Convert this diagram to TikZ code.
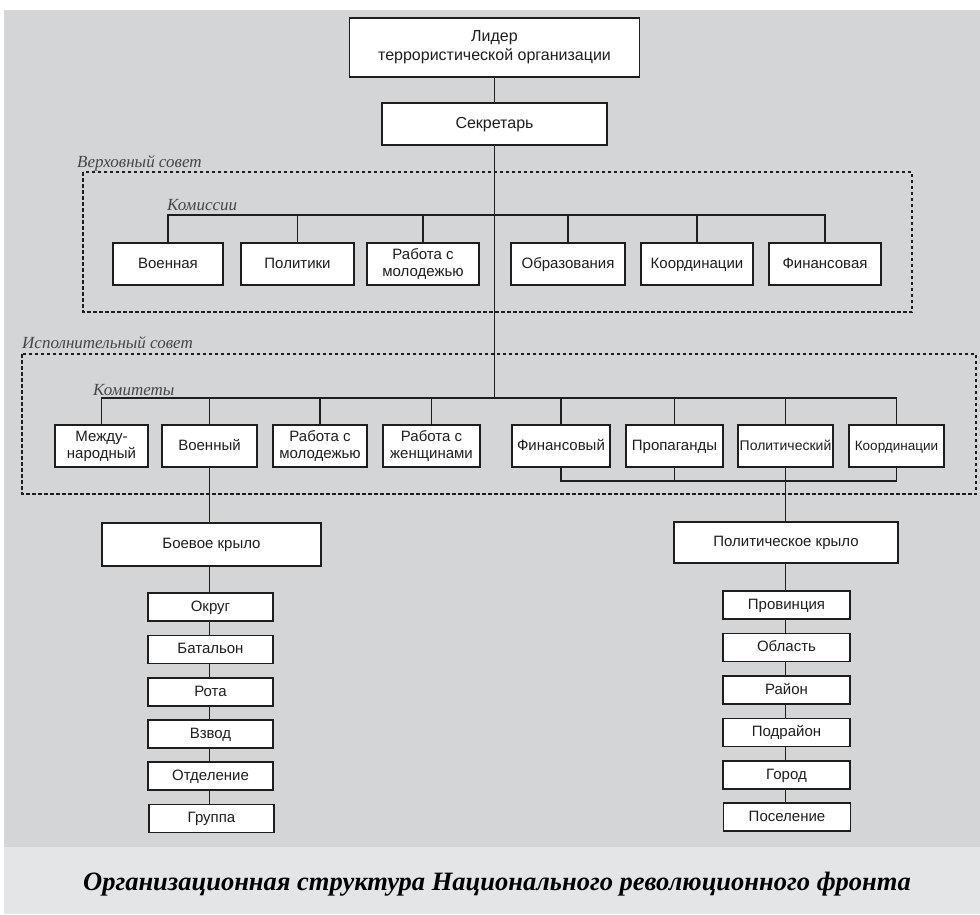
\documentclass[tikz,border=0pt]{standalone}
\usepackage{fontspec}
\setmainfont{Liberation Serif}
\setsansfont{Liberation Sans}
\definecolor{bggray}{RGB}{212,213,215}
\definecolor{capgray}{RGB}{228,229,231}
\definecolor{inkc}{RGB}{30,30,30}
\definecolor{labc}{RGB}{70,70,70}
\begin{document}
\begin{tikzpicture}[x=1pt,y=-1pt,
  box/.style={draw=inkc, fill=white, line width=1.5pt, inner sep=1pt, align=center,
    text=inkc, font=\sffamily\fontsize{15}{17}\selectfont},
  sl/.style={text height=10.5pt, text depth=2.5pt},
  chainbox/.style={box, sl, minimum width=125pt, minimum height=28pt},
  conn/.style={draw=inkc, line width=1.2pt},
  council/.style={draw=inkc, line width=1.1pt, dash pattern=on 3.5pt off 2.5pt},
  lab/.style={anchor=west, inner sep=0pt, text=labc, font=\rmfamily\itshape\fontsize{17}{19}\selectfont}]
\useasboundingbox (0,0) rectangle (980,914);
\fill[white] (0,0) rectangle (980,914);
\fill[bggray] (4,10) rectangle (980,847);
\fill[capgray] (4,847) rectangle (980,914);

% dashed councils
\draw[council] (83,172) rectangle (912,312);
\draw[council] (22,354) rectangle (976,494);
\node[lab] (lsup) at (77,163) {Верховный совет};
\node[lab] (lcom) at (167,205) {Комиссии};
\node[lab] (lexe) at (22,343) {Исполнительный совет};
\node[lab] (lcmt) at (93,390) {Комитеты};

% top
\node[box, minimum width=290pt, minimum height=59pt, font=\sffamily\fontsize{16}{19}\selectfont] (lead) at (494.5,47.5) {Лидер\\террористической организации};
\node[box, sl, minimum width=225pt, minimum height=42pt, font=\sffamily\fontsize{16}{19}\selectfont] (sec) at (494.5,124) {Секретарь};

% commissions
\node[box, sl, minimum width=110pt, minimum height=42pt] (c1) at (168,264) {Военная};
\node[box, sl, minimum width=113pt, minimum height=42pt] (c2) at (297.5,264) {Политики};
\node[box, minimum width=112pt, minimum height=42pt] (c3) at (423,264) {Работа с\\молодежью};
\node[box, sl, minimum width=114pt, minimum height=42pt] (c4) at (568,264) {Образования};
\node[box, sl, minimum width=112pt, minimum height=42pt] (c5) at (697,264) {Координации};
\node[box, sl, minimum width=112pt, minimum height=42pt] (c6) at (825,264) {Финансовая};

% committees
\node[box, minimum width=93pt, minimum height=42pt] (k1) at (101.5,446) {Между-\\народный};
\node[box, sl, minimum width=95pt, minimum height=42pt] (k2) at (209.5,446) {Военный};
\node[box, minimum width=94pt, minimum height=42pt] (k3) at (320,446) {Работа с\\молодежью};
\node[box, minimum width=97pt, minimum height=42pt] (k4) at (431.5,446) {Работа с\\женщинами};
\node[box, sl, minimum width=98pt, minimum height=42pt] (k5) at (561,446) {Финансовый};
\node[box, sl, minimum width=97pt, minimum height=42pt] (k6) at (674.5,446) {Пропаганды};
\node[box, sl, minimum width=95pt, minimum height=42pt, font=\sffamily\fontsize{14}{16}\selectfont] (k7) at (785.5,446) {Политический};
\node[box, sl, minimum width=95pt, minimum height=42pt, font=\sffamily\fontsize{13.5}{16}\selectfont] (k8) at (896.5,446) {Координации};

% wings
\node[box, sl, minimum width=219pt, minimum height=43pt] (bw) at (211.5,544.5) {Боевое крыло};
\node[box, sl, minimum width=224pt, minimum height=41pt] (pw) at (786,542.5) {Политическое крыло};

% military chain
\node[chainbox] (m1) at (210.5,607) {Округ};
\node[chainbox] (m2) at (210.5,649.5) {Батальон};
\node[chainbox] (m3) at (210.5,692) {Рота};
\node[chainbox] (m4) at (210.5,734) {Взвод};
\node[chainbox] (m5) at (210.5,776) {Отделение};
\node[chainbox] (m6) at (211.5,818.5) {Группа};

% political chain
\node[chainbox, minimum width=127pt] (p1) at (786.5,605) {Провинция};
\node[chainbox, minimum width=127pt] (p2) at (786.5,647.5) {Область};
\node[chainbox, minimum width=127pt] (p3) at (786.5,690) {Район};
\node[chainbox, minimum width=127pt] (p4) at (786.5,732.5) {Подрайон};
\node[chainbox, minimum width=127pt] (p5) at (786.5,775) {Город};
\node[chainbox, minimum width=127pt] (p6) at (787,817) {Поселение};

% connectors
\coordinate (cbar) at (494.5,215);
\coordinate (kbar) at (494.5,398);
\coordinate (fbar) at (494.5,481);
\draw[conn] (lead.south) -- (sec.north);
\draw[conn] (sec.south) -- (sec.south |- kbar);
\draw[conn] (c1.north) -- (c1.north |- cbar) -- (c6.north |- cbar) -- (c6.north);
\foreach \n in {c2,c3,c4,c5} \draw[conn] (\n.north) -- (\n.north |- cbar);
\draw[conn] (k1.north) -- (k1.north |- kbar) -- (k8.north |- kbar) -- (k8.north);
\foreach \n in {k2,k3,k4,k5,k6,k7} \draw[conn] (\n.north) -- (\n.north |- kbar);
\draw[conn] (k5.south) -- (k5.south |- fbar) -- (k8.south |- fbar) -- (k8.south);
\draw[conn] (k6.south) -- (k6.south |- fbar);
\draw[conn] (k7.south) -- (pw.north -| k7.south);
\draw[conn] (k2.south) -- (bw.north -| k2.south);
\draw[conn] (bw.south -| k2.south) -- (m1.north -| k2.south);
\foreach \a/\b in {m1/m2,m2/m3,m3/m4,m4/m5,m5/m6} \draw[conn] (\a.south -| k2.south) -- (\b.north -| k2.south);
\draw[conn] (pw.south -| k7.south) -- (p1.north -| k7.south);
\foreach \a/\b in {p1/p2,p2/p3,p3/p4,p4/p5,p5/p6} \draw[conn] (\a.south -| k7.south) -- (\b.north -| k7.south);

% caption
\node[inner sep=0pt, text=black, font=\rmfamily\bfseries\itshape\fontsize{26.5}{30}\selectfont] (cap) at (497,884) {Организационная структура Национального революционного фронта};
\end{tikzpicture}
\end{document}
